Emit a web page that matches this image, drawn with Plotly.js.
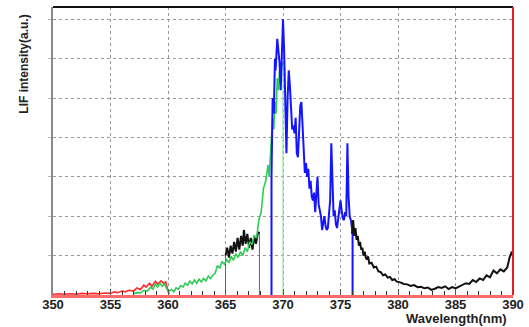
<!DOCTYPE html>
<html><head><meta charset="utf-8">
<script src="https://cdn.plot.ly/plotly-3.0.1.min.js"></script>
<style>html,body{margin:0;padding:0;background:#fff}#chart{width:529px;height:327px}</style>
</head><body><div id="chart"></div>
<script>
// Wavelength (nm) and LIF intensity (a.u.) for each segment
const redX = [350,350.5,351,351.5,352,352.5,353,353.5,354,354.5,355,355.3,355.6,356,356.3,356.6,357,357.3,357.6,357.9,358.1,358.4,358.6,358.9,359.1,359.4,359.6,359.8,360,360.1];
const redY = [0.02,0.03,0.02,0.03,0.02,0.04,0.03,0.04,0.03,0.05,0.04,0.08,0.06,0.1,0.08,0.12,0.1,0.18,0.14,0.25,0.2,0.3,0.22,0.35,0.28,0.36,0.3,0.33,0.1,0.02];

const greenX = [357.0,357.3,357.6,357.9,358.2,358.5,358.7,358.9,359.1,359.3,359.5,359.7,359.9,360.1,360.3,360.5,360.7,360.9,361.1,361.3,361.5,361.7,361.9,362.1,362.3,362.5,362.7,362.9,363.1,363.3,363.5,363.7,363.9,364.1,364.3,364.5,364.7,364.9,365.1,365.3,365.5,365.7,365.9,366.1,366.3,366.5,366.7,366.9,367.1,367.3,367.5,367.7,367.9,368.1,368.3,368.5,368.7,368.8,369.0,369.1,369.2,369.3,369.4,369.5,369.6,369.7,369.8,369.9,370.0];
const greenY = [0.03,0.06,0.05,0.12,0.1,0.2,0.15,0.28,0.2,0.3,0.22,0.28,0.15,0.1,0.14,0.08,0.18,0.15,0.24,0.2,0.3,0.25,0.35,0.28,0.38,0.3,0.4,0.33,0.42,0.36,0.48,0.42,0.5,0.55,0.75,0.68,0.85,0.78,0.9,0.82,0.98,0.88,1.05,0.95,1.1,1.0,1.2,1.1,1.35,1.28,1.5,1.45,1.9,2.1,2.7,2.9,3.3,3.0,4.0,4.5,4.2,4.9,4.6,5.5,5.2,5.7,5.4,5.9,5.8];
const greenEdgeX = [370.0,370.0];
const greenEdgeY = [5.8,0];

const black1X = [365.0,365.15,365.3,365.45,365.6,365.75,365.9,366.05,366.2,366.35,366.5,366.6,366.75,366.9,367.05,367.2,367.35,367.5,367.65,367.8,367.95];
const black1Y = [1.0,1.2,0.95,1.25,1.05,1.35,1.1,1.45,1.15,1.5,1.25,1.65,1.3,1.55,1.2,1.45,1.15,1.5,1.3,1.55,1.6];
const grayEdgeAX = [365.0,365.0];
const grayEdgeAY = [0,1.0];
const grayEdgeBX = [367.95,367.95];
const grayEdgeBY = [1.6,0];

const blueX = [369.0,369.0,369.1,369.2,369.3,369.35,369.5,369.6,369.7,369.8,369.9,370.0,370.1,370.2,370.3,370.4,370.5,370.6,370.7,370.8,370.9,371.0,371.1,371.2,371.3,371.4,371.5,371.6,371.7,371.8,371.9,372.0,372.1,372.2,372.3,372.4,372.5,372.6,372.7,372.8,372.9,373.0,373.1,373.2,373.3,373.4,373.5,373.6,373.7,373.8,373.9,374.0,374.1,374.2,374.3,374.4,374.5,374.6,374.7,374.8,374.9,375.0,375.1,375.2,375.3,375.4,375.5,375.6,375.7,375.8,375.9,376.0,376.05,376.05];
const blueY = [0,3.0,5.0,4.6,6.0,5.7,6.5,6.1,5.9,5.2,6.0,7.0,6.2,4.5,3.6,5.0,5.7,5.3,4.6,4.2,4.3,4.1,4.5,3.6,3.5,4.4,4.8,4.9,4.2,3.4,3.1,3.35,3.0,3.2,2.7,2.9,2.5,2.4,2.6,2.1,2.5,3.0,2.3,2.1,2.0,1.65,1.9,2.0,1.75,1.65,1.7,2.0,2.4,3.85,2.6,2.0,2.15,1.8,1.7,1.9,2.1,2.4,2.15,1.95,1.9,2.1,2.0,3.85,2.5,2.0,1.9,1.7,1.6,0];

const black2X = [376.0,376.1,376.2,376.3,376.4,376.5,376.6,376.7,376.8,376.9,377.0,377.1,377.2,377.3,377.4,377.5,377.7,377.9,378.1,378.3,378.5,378.7,378.9,379.1,379.3,379.5,379.7,379.9,380.2,380.5,380.8,381.1,381.4,381.7,382.0,382.3,382.6,382.9,383.2,383.5,383.8,384.1,384.4,384.7,385.0,385.3,385.6,385.9,386.2,386.5,386.8,387.1,387.4,387.7,388.0,388.3,388.6,388.9,389.2,389.5,389.7,389.9,390.0];
const black2Y = [1.55,1.9,1.5,1.7,1.4,1.5,1.25,1.35,1.15,1.2,1.0,1.1,0.95,0.9,0.98,0.8,0.82,0.7,0.72,0.6,0.58,0.5,0.52,0.44,0.46,0.38,0.4,0.34,0.32,0.28,0.27,0.23,0.25,0.2,0.21,0.17,0.19,0.13,0.16,0.2,0.18,0.22,0.15,0.2,0.17,0.22,0.25,0.3,0.28,0.38,0.33,0.42,0.38,0.5,0.45,0.62,0.55,0.65,0.6,0.7,0.95,1.1,1.0];

const xTicks = [350,355,360,365,370,375,380,385,390];
const yTicks = [1,2,3,4,5,6,7];

const tr = (x, y, color, width) => ({x, y, type:'scatter', mode:'lines', line:{color, width}, hoverinfo:'skip', showlegend:false});

const data = [
  tr(redX, redY, '#ff2a2a', 1.6),
  tr(grayEdgeAX, grayEdgeAY, '#666666', 1),
  tr(grayEdgeBX, grayEdgeBY, '#666666', 1),
  tr(black1X, black1Y, '#111111', 2),
  tr(greenX, greenY, '#2ecc55', 1.6),
  tr(greenEdgeX, greenEdgeY, '#8fe3a4', 1.2),
  tr(blueX, blueY, '#1414ff', 2),
  tr(black2X, black2Y, '#111111', 2)
];

const layout = {
  width:529, height:327,
  margin:{l:53, r:16, t:7, b:32},
  paper_bgcolor:'#fff', plot_bgcolor:'#fff',
  font:{family:'Liberation Sans, Arial, sans-serif', color:'#222'},
  xaxis:{
    range:[350,390], tickvals:xTicks, ticktext:xTicks.map(String),
    showgrid:true, gridcolor:'#9a9a9a', griddash:'dot', gridwidth:1,
    showline:true, linecolor:'#ff6a6a', linewidth:3,
    ticks:'inside', ticklen:6, tickcolor:'#555', tickwidth:1,
    ticklabelstandoff:-5,
    minor:{dtick:1, ticks:'inside', ticklen:4, tickcolor:'#333', showgrid:false},
    tickfont:{size:13, family:'Liberation Sans, Arial, sans-serif', weight:'bold', color:'#222'},
    zeroline:false, fixedrange:true
  },
  yaxis:{
    range:[0,7.31], tickvals:yTicks, showticklabels:false,
    showgrid:true, gridcolor:'#9a9a9a', griddash:'dot', gridwidth:1,
    showline:true, linecolor:'#8a8a8a', linewidth:2,
    ticks:'outside', ticklen:3, tickcolor:'#bbb',
    zeroline:false, fixedrange:true
  },
  shapes:[
    {type:'line', xref:'paper', yref:'paper', x0:0, x1:1, y0:1, y1:1, line:{color:'#111', width:2}},
    {type:'line', xref:'paper', yref:'paper', x0:1, x1:1, y0:0, y1:1, line:{color:'#e02020', width:2}}
  ],
  annotations:[
    {text:'Wavelength(nm)', xref:'paper', yref:'paper', x:0.99, y:-0.083, xanchor:'right', yanchor:'middle', showarrow:false, borderpad:0,
     font:{size:13, family:'Liberation Sans, Arial, sans-serif', weight:'bold', color:'#222'}},
    {text:'LIF intensity(a.u.)', xref:'paper', yref:'paper', x:-0.065, y:0.80, xanchor:'center', yanchor:'middle', textangle:-90, showarrow:false,
     font:{size:12, family:'Liberation Sans, Arial, sans-serif', weight:'bold', color:'#222'}}
  ]
};

Plotly.newPlot('chart', data, layout, {staticPlot:true, displayModeBar:false});
</script>
</body></html>
